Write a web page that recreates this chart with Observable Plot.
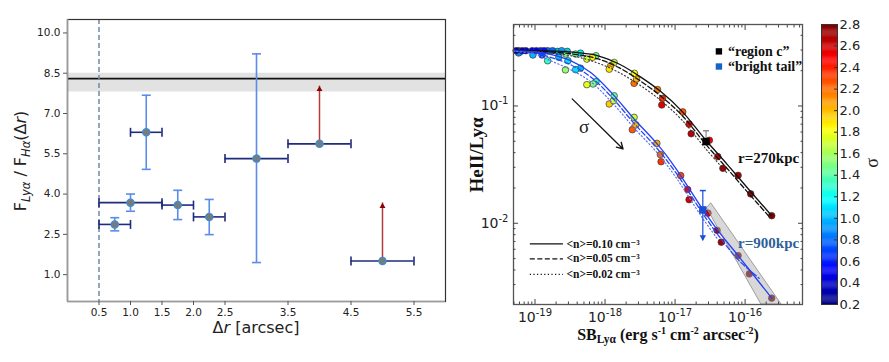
<!DOCTYPE html>
<html><head><meta charset="utf-8">
<script src="https://cdn.jsdelivr.net/npm/d3@7"></script>
<script src="https://cdn.jsdelivr.net/npm/@observablehq/plot@0.6"></script>
<style>
body{margin:0;background:#fff;}
#wrap{position:relative;width:889px;height:362px;overflow:hidden;background:#fff;}
#wrap > svg{position:absolute;top:0;}
</style></head><body><div id="wrap"></div>
<script>
// ================= LEFT PANEL DATA =================
const binCenter = [0.75, 1.0, 1.25, 1.75, 2.25, 3.0, 4.0, 5.0];
const binLo     = [0.5, 0.5, 1.0, 1.5, 2.0, 2.5, 3.5, 4.5];
const binHi     = [1.0, 1.5, 1.5, 2.0, 2.5, 3.5, 4.5, 5.5];
const ratio     = [2.87, 3.68, 6.30, 3.59, 3.15, 5.32, 5.87, 1.51];
const ratioLo   = [2.63, 3.36, 4.92, 3.05, 2.49, 1.45, null, null];
const ratioHi   = [3.12, 4.00, 7.68, 4.14, 3.80, 9.22, null, null];
const limitTip  = [null, null, null, null, null, null, 8.02, 3.67];
const meanRatio = 8.3;
const meanBand  = [7.8, 8.5];
const apertureX = 0.5;
const xDomainL = [0, 6];
const yDomainL = [0, 10.5];
const xTicksL = [0.5, 1.0, 1.5, 2.0, 2.5, 3.5, 4.5, 5.5];
const yTicksL = [1.0, 2.5, 4.0, 5.5, 7.0, 8.5, 10.0];

// ================= RIGHT PANEL DATA =================
const sbDomain = [4.93e-20, 6.6e-16];
const hlDomain = [0.00203, 0.495];
const sbTicks = [1e-19, 1e-18, 1e-17, 1e-16];
const hlTicks = [0.1, 0.01];
// model curves (log10 SB, HeII/Lya)
const blk010X = [-19.31,-19.0,-18.7,-18.4,-18.1,-17.8,-17.5,-17.2,-16.9,-16.56,-16.25,-15.95,-15.62];
const blk010Y = [0.296,0.296,0.293,0.285,0.268,0.228,0.178,0.132,0.09,0.051,0.0315,0.0195,0.0116];
const blk005X = [-19.31,-19.0,-18.7,-18.4,-18.1,-17.8,-17.5,-17.2,-16.9,-16.56,-16.25,-15.95,-15.65];
const blk005Y = [0.296,0.294,0.287,0.274,0.252,0.212,0.164,0.121,0.083,0.047,0.029,0.018,0.0113];
const blk002X = [-19.31,-19.0,-18.7,-18.4,-18.1,-17.8,-17.5,-17.2,-16.9,-16.56,-16.25];
const blk002Y = [0.296,0.291,0.279,0.262,0.232,0.193,0.15,0.111,0.0756,0.043,0.0265];
const blu010X = [-19.31,-19.0,-18.8,-18.5,-18.2,-17.9,-17.585,-17.25,-17.0,-16.6,-16.39,-16.1,-15.62];
const blu010Y = [0.294,0.29,0.277,0.245,0.192,0.128,0.0775,0.047,0.030,0.013,0.0087,0.0053,0.0023];
const blu005X = [-19.31,-19.0,-18.8,-18.5,-18.2,-17.9,-17.585,-17.25,-17.0,-16.6,-16.39,-16.1,-15.8];
const blu005Y = [0.294,0.284,0.262,0.226,0.176,0.118,0.071,0.043,0.0276,0.012,0.008,0.0049,0.0034];
const blu002X = [-19.31,-19.0,-18.8,-18.5,-18.2,-17.9,-17.585,-17.25,-17.0,-16.6,-16.39];
const blu002Y = [0.294,0.276,0.246,0.205,0.16,0.107,0.065,0.0395,0.0252,0.0109,0.0073];
// simulated points (log10 SB, HeII/Lya, sigma)
const ptLogSB = [-15.62,-15.92,-16.10,-16.317,-16.39,-16.51,-16.77,-16.80,-16.89,-17.19,-17.18,-17.25,-17.585,-17.55,-17.58,-17.87,-17.92,-17.94,-18.13,-18.18,-18.26,-18.35,-18.42,-18.54,-18.56,-18.68,-18.82,-18.92,-19.04,-19.13,-19.235,-19.22,
  -15.62,-15.94,-16.10,-16.34,-16.40,-16.53,-16.80,-16.82,-16.92,-17.20,-17.21,-17.26,-17.61,-17.56,-17.585,-17.94,-17.88,-17.87,-18.13,-18.17,-18.26,-18.35,-18.42,-18.565,-18.53,-18.66,-18.82,-18.90,-19.03,-19.235,
  -19.27,-19.18,-18.98,-18.87,-18.75,-18.62];
const ptRatio = [0.0116,0.0178,0.0256,0.0294,0.037,0.051,0.058,0.070,0.089,0.102,0.116,0.138,0.156,0.17,0.19,0.235,0.22,0.206,0.268,0.26,0.251,0.282,0.277,0.292,0.277,0.292,0.296,0.296,0.296,0.296,0.296,0.288,
  0.0023,0.0037,0.0053,0.0069,0.0087,0.0122,0.0159,0.0194,0.0255,0.0335,0.0385,0.048,0.0628,0.069,0.08,0.104,0.111,0.122,0.161,0.154,0.152,0.21,0.204,0.203,0.243,0.26,0.243,0.272,0.272,0.283,
  0.296,0.296,0.296,0.296,0.296,0.296];
const ptSigma = [2.8,2.75,2.7,2.7,2.6,2.5,2.65,2.5,2.25,2.55,2.35,2.15,2.2,2.0,1.8,1.7,2.05,1.9,1.45,1.85,1.7,1.15,1.4,1.05,1.5,1.0,0.8,0.6,0.5,0.4,0.3,1.0,
  2.8,2.75,2.75,2.7,2.7,2.6,2.6,2.5,2.3,2.35,2.2,2.05,2.25,2.0,1.7,1.95,1.7,1.45,1.3,1.5,1.75,1.0,1.1,1.55,1.1,1.0,1.3,0.7,1.0,0.9,
  0.3,0.35,0.45,0.55,0.8,0.95];
// shaded band around r=900kpc high-sigma tail
const bandLogX1 = [-16.542, -15.768];
const bandY1    = [0.01333, 0.00203];
const bandLogX2 = [-16.481, -15.48];
const bandY2    = [0.01472, 0.00203];
// observations
const obsNames = ["region c", "bright tail"];
const obsSB    = [2.77e-17, 2.49e-17];
const obsRatio = [0.0497, 0.013];
const obsErrLo = [0.0455, 0.0071];
const obsErrHi = [0.0615, 0.019];
const obsColor = ["#000000", "#1a4fd8"];
// annotations
const labelText = ["r=270kpc", "r=900kpc"];
const labelLogX = [-16.10, -16.10];
const labelY    = [0.0358, 0.0068];
const labelColor = ["#111111", "#2f5f9a"];
const sigmaArrow = {x1: -18.469, y1: 0.115, x2: -17.743, y2: 0.043};
const sigmaText = {x: -18.30, y: 0.0658};
const obsLegendLogX = -16.374, obsLegendTextLogX = -16.245, obsLegendY = [0.292, 0.217];
const obsLegendColor = ["#000000", "#1565c8"];
const densLabels = ["<n>=0.10 cm⁻³", "<n>=0.05 cm⁻³", "<n>=0.02 cm⁻³"];
const densDash = ["none", "5,2.5", "1.2,2.4"];
const densLegendX1 = -19.067, densLegendX2 = -18.594, densLegendTextX = -18.55;
const densLegendY = [0.00668, 0.00498, 0.00366];

// ================= COLORBAR =================
const sigmaDomain = [0.2, 2.8];
const cbTicks = [0.2,0.4,0.6,0.8,1.0,1.2,1.4,1.6,1.8,2.0,2.2,2.4,2.6,2.8];

function jet(t){
  const c = v => Math.max(0, Math.min(1, v));
  const r = c(1.5 - Math.abs(4*t-3)), g = c(1.5 - Math.abs(4*t-2)), b = c(1.5 - Math.abs(4*t-1));
  return `rgb(${Math.round(r*255)},${Math.round(g*255)},${Math.round(b*255)})`;
}
const colorOpts = {type: "linear", domain: sigmaDomain, interpolate: jet};
const pow10 = v => "10^" + Math.round(Math.log10(v));
function minorTicks(dom){
  const out = [];
  for (let e = Math.floor(Math.log10(dom[0])); e <= Math.ceil(Math.log10(dom[1])); e++)
    for (let k = 2; k <= 9; k++){ const v = k*Math.pow(10,e); if (v>dom[0] && v<dom[1]) out.push(v); }
  return out;
}
const capH = {draw(ctx){ ctx.moveTo(-4.5,0); ctx.lineTo(4.5,0); }};
const capV = {draw(ctx){ ctx.moveTo(0,-4.5); ctx.lineTo(0,4.5); }};
const capS = {draw(ctx){ ctx.moveTo(-3,0); ctx.lineTo(3,0); }};

const wrap = document.getElementById("wrap");

// ---------------- left plot ----------------
const idx = d3.range(binCenter.length);
const idxErr = idx.filter(i => ratioLo[i] != null);
const idxLim = idx.filter(i => limitTip[i] != null);
const left = Plot.plot({
  width: 460, height: 362, marginLeft: 67, marginRight: 15, marginTop: 19, marginBottom: 61,
  style: {fontFamily: "'DejaVu Sans', sans-serif", fontSize: "10.5px", color: "#222", background: "transparent"},
  x: {domain: xDomainL},
  y: {domain: yDomainL},
  marks: [
    Plot.rect([0], {x1: xDomainL[0], x2: xDomainL[1], y1: meanBand[0], y2: meanBand[1], fill: "#e2e2e2"}),
    Plot.ruleY([meanRatio], {stroke: "#111", strokeWidth: 1.6}),
    Plot.ruleX([apertureX], {stroke: "#6d8aa6", strokeWidth: 1.5, strokeDasharray: "5,3"}),
    Plot.ruleX(idxErr, {x: i => binCenter[i], y1: i => ratioLo[i], y2: i => ratioHi[i], stroke: "#5b8beb", strokeWidth: 1.6}),
    Plot.dot(idxErr, {x: i => binCenter[i], y: i => ratioHi[i], symbol: capH, stroke: "#5b8beb", strokeWidth: 1.6, fill: "none"}),
    Plot.dot(idxErr, {x: i => binCenter[i], y: i => ratioLo[i], symbol: capH, stroke: "#5b8beb", strokeWidth: 1.6, fill: "none"}),
    Plot.ruleX(idxLim, {x: i => binCenter[i], y1: i => ratio[i], y2: i => limitTip[i], stroke: "#b23b3b", strokeWidth: 1.5}),
    Plot.dot(idxLim, {x: i => binCenter[i], y: i => limitTip[i], symbol: "triangle", r: 2.2, fill: "#8b0000", dy: 3.3}),
    Plot.ruleY(idx, {y: i => ratio[i], x1: i => binLo[i], x2: i => binHi[i], stroke: "#1f2b7c", strokeWidth: 1.6}),
    Plot.dot(idx, {x: i => binLo[i], y: i => ratio[i], symbol: capV, stroke: "#1f2b7c", strokeWidth: 1.6, fill: "none"}),
    Plot.dot(idx, {x: i => binHi[i], y: i => ratio[i], symbol: capV, stroke: "#1f2b7c", strokeWidth: 1.6, fill: "none"}),
    Plot.dot(idx, {x: i => binCenter[i], y: i => ratio[i], r: 3.6, fill: "#7a7a7a", stroke: "#3d8fd1", strokeWidth: 1.3}),
    Plot.frame({stroke: "#333", strokeWidth: 1.2}),
    Plot.ruleX([xDomainL[0]], {stroke: "#9a9a9a", strokeWidth: 1.6}),
    Plot.ruleY([yDomainL[0]], {stroke: "#9a9a9a", strokeWidth: 1.6}),
    Plot.axisX({ticks: xTicksL, tickFormat: d3.format(".1f"), tickSize: 4, tickPadding: 3, label: null, stroke: "#555"}),
    Plot.axisY({ticks: yTicksL, tickFormat: d3.format(".1f"), tickSize: 4, tickPadding: 3, label: null, stroke: "#555"})
  ]
});
left.style.left = "0px";
wrap.appendChild(left);
{
  const s = d3.select(left);
  const t = s.append("text").attr("transform", "translate(26,161) rotate(-90)").attr("text-anchor", "middle")
    .attr("font-family", "'DejaVu Sans', sans-serif").attr("font-size", 16).attr("fill", "#222");
  t.append("tspan").text("F");
  t.append("tspan").attr("font-size", 11.5).attr("font-style", "italic").attr("dy", 4).text("Lyα");
  t.append("tspan").attr("dy", -4).text(" / F");
  t.append("tspan").attr("font-size", 11.5).attr("font-style", "italic").attr("dy", 4).text("Hα");
  t.append("tspan").attr("dy", -4).text("(Δ");
  t.append("tspan").attr("font-style", "italic").text("r");
  t.append("tspan").text(")");
  const x = s.append("text").attr("x", 256).attr("y", 333).attr("text-anchor", "middle")
    .attr("font-family", "'DejaVu Sans', sans-serif").attr("font-size", 16).attr("fill", "#222");
  x.append("tspan").text("Δ");
  x.append("tspan").attr("font-style", "italic").text("r");
  x.append("tspan").text(" [arcsec]");
}

// ---------------- right plot ----------------
const L = v => Math.pow(10, v);
const pIdx = d3.range(ptLogSB.length);
const curve = (xs, ys, stroke, dash, w) => Plot.line(d3.range(xs.length), {x: i => L(xs[i]), y: i => ys[i], stroke, strokeDasharray: dash, strokeWidth: w, curve: "catmull-rom", clip: true});
const serif = "'Liberation Serif', 'DejaVu Serif', serif";
const minX = minorTicks(sbDomain), minY = minorTicks(hlDomain);
const oi = [0, 1];
const densRules = [0, 1, 2].map(i => Plot.ruleY([i], {y: j => densLegendY[j], x1: L(densLegendX1), x2: L(densLegendX2), stroke: "#111", strokeWidth: 1.3, strokeDasharray: densDash[i]}));
const right = Plot.plot({
  width: 350, height: 362, marginLeft: 53, marginRight: 8, marginTop: 24, marginBottom: 58,
  style: {fontFamily: "'DejaVu Sans', sans-serif", fontSize: "14px", color: "#222", background: "transparent"},
  x: {type: "log", domain: sbDomain},
  y: {type: "log", domain: hlDomain},
  color: colorOpts,
  marks: [
    Plot.dot(pIdx, {x: i => L(ptLogSB[i]), y: i => ptRatio[i], fill: i => ptSigma[i], stroke: "#3a3a3a", strokeWidth: 0.7, r: 3.3}),
    Plot.area([0, 1], {x1: i => L(bandLogX1[i]), y1: i => bandY1[i], x2: i => L(bandLogX2[i]), y2: i => bandY2[i], fill: "#a8a8a8", fillOpacity: 0.45, stroke: "#8a8a8a", strokeWidth: 0.8, clip: true}),
    curve(blk010X, blk010Y, "#111", "none", 1.3),
    curve(blk005X, blk005Y, "#111", "5,2.5", 1.3),
    curve(blk002X, blk002Y, "#333", "1.2,2.4", 1.1),
    curve(blu010X, blu010Y, "#2340f5", "none", 1.3),
    curve(blu005X, blu005Y, "#2a46f0", "5,2.5", 1.3),
    curve(blu002X, blu002Y, "#5a72ff", "1.2,2.4", 1.2),
    // observations
    Plot.ruleX([0], {x: obsSB[0], y1: obsErrLo[0], y2: obsErrHi[0], stroke: "#8a8a8a", strokeWidth: 1.2}),
    Plot.dot([0], {x: obsSB[0], y: obsErrHi[0], symbol: capS, stroke: "#8a8a8a", fill: "none"}),
    Plot.ruleX([1], {x: obsSB[1], y1: obsErrLo[1], y2: obsErrHi[1], stroke: obsColor[1], strokeWidth: 1.2}),
    Plot.dot([1], {x: obsSB[1], y: obsErrHi[1], symbol: capS, stroke: obsColor[1], fill: "none"}),
    Plot.dot([1], {x: obsSB[1], y: obsErrLo[1], symbol: "triangle", r: 2.4, rotate: 180, fill: obsColor[1], dy: -3.5}),
    Plot.dot(oi, {x: i => obsSB[i], y: i => obsRatio[i], symbol: "square", r: 4.2, fill: i => obsColor[i], stroke: "none"}),
    // sigma arrow
    Plot.arrow([sigmaArrow], {x1: d => L(d.x1), y1: "y1", x2: d => L(d.x2), y2: "y2", stroke: "#111", strokeWidth: 1.3, headLength: 8}),
    Plot.text([sigmaText], {x: d => L(d.x), y: "y", text: () => "σ", fontFamily: serif, fontSize: 19, fill: "#222"}),
    // radius labels
    Plot.text([0, 1], {x: i => L(labelLogX[i]), y: i => labelY[i], text: i => labelText[i], fill: i => labelColor[i], textAnchor: "start", fontFamily: serif, fontWeight: "bold", fontSize: 15}),
    // observation legend
    Plot.dot(oi, {x: L(obsLegendLogX), y: i => obsLegendY[i], symbol: "square", r: 3.6, fill: i => obsLegendColor[i]}),
    Plot.text(oi, {x: L(obsLegendTextLogX), y: i => obsLegendY[i], text: i => "“" + obsNames[i] + "”", textAnchor: "start", fontFamily: serif, fontWeight: "bold", fontSize: 14, fill: "#111"}),
    // density legend
    ...densRules,
    Plot.text([0, 1, 2], {x: L(densLegendTextX), y: i => densLegendY[i], text: i => densLabels[i], textAnchor: "start", fontFamily: serif, fontWeight: "bold", fontSize: 11.5, fill: "#111"}),
    Plot.frame({stroke: "#555", strokeWidth: 1.3}),
    // axes
    Plot.axisX({ticks: sbTicks, tickFormat: pow10, tickSize: 0, tickPadding: 8, label: null}),
    Plot.axisX({ticks: sbTicks, tickFormat: () => "", tickSize: -5, label: null, stroke: "#444"}),
    Plot.axisX({ticks: minX, tickFormat: () => "", tickSize: -2.5, label: null, stroke: "#444"}),
    Plot.axisX({anchor: "top", ticks: sbTicks, tickFormat: () => "", tickSize: -5, label: null, stroke: "#444"}),
    Plot.axisX({anchor: "top", ticks: minX, tickFormat: () => "", tickSize: -2.5, label: null, stroke: "#444"}),
    Plot.axisY({ticks: hlTicks, tickFormat: pow10, tickSize: 0, tickPadding: 5, label: null}),
    Plot.axisY({ticks: hlTicks, tickFormat: () => "", tickSize: -5, label: null, stroke: "#444"}),
    Plot.axisY({ticks: minY, tickFormat: () => "", tickSize: -2.5, label: null, stroke: "#444"}),
    Plot.axisY({anchor: "right", ticks: hlTicks, tickFormat: () => "", tickSize: -5, label: null, stroke: "#444"}),
    Plot.axisY({anchor: "right", ticks: minY, tickFormat: () => "", tickSize: -2.5, label: null, stroke: "#444"})
  ]
});
right.style.left = "460px";
wrap.appendChild(right);
{
  const s = d3.select(right);
  // turn "10^-19" tick labels into 10 with a raised exponent
  s.selectAll("text").each(function(){
    const str = this.textContent;
    if (!/^10\^-?\d+$/.test(str)) return;
    const [b, e] = str.split("^");
    this.textContent = "";
    const sel = d3.select(this);
    sel.append("tspan").text(b);
    sel.append("tspan").attr("font-size", 10).attr("dy", -6).text(e);
  });
  s.append("text").attr("transform", "translate(23,155) rotate(-90)").attr("text-anchor", "middle")
    .attr("font-family", serif).attr("font-weight", "bold").attr("font-size", 19).attr("fill", "#111").text("HeII/Lyα");
  const x = s.append("text").attr("x", 208).attr("y", 340).attr("text-anchor", "middle")
    .attr("font-family", serif).attr("font-weight", "bold").attr("font-size", 16).attr("fill", "#111");
  x.append("tspan").text("SB");
  x.append("tspan").attr("font-size", 11.5).attr("dy", 3).text("Lyα");
  x.append("tspan").attr("dy", -3).text(" (erg s");
  x.append("tspan").attr("font-size", 10).attr("dy", -6).text("-1");
  x.append("tspan").attr("dy", 6).text(" cm");
  x.append("tspan").attr("font-size", 10).attr("dy", -6).text("-2");
  x.append("tspan").attr("dy", 6).text(" arcsec");
  x.append("tspan").attr("font-size", 10).attr("dy", -6).text("-2");
  x.append("tspan").attr("dy", 6).text(")");
}

// ---------------- colorbar ----------------
const cbSlices = d3.range(sigmaDomain[0], sigmaDomain[1], 0.01);
const cb = Plot.plot({
  width: 89, height: 362, marginLeft: 21, marginRight: 52, marginTop: 24, marginBottom: 58,
  style: {fontFamily: "'DejaVu Sans', sans-serif", fontSize: "13px", color: "#222", background: "transparent"},
  x: {domain: [0, 1], axis: null},
  y: {domain: sigmaDomain},
  color: colorOpts,
  marks: [
    Plot.rect(cbSlices, {x1: 0, x2: 1, y1: d => d, y2: d => Math.min(d + 0.012, sigmaDomain[1]), fill: d => d + 0.005}),
    Plot.frame({stroke: "#333"}),
    Plot.axisY({anchor: "right", ticks: cbTicks, tickFormat: d3.format(".1f"), tickSize: 0, tickPadding: 2, label: null}),
    Plot.axisY({anchor: "right", ticks: cbTicks, tickFormat: () => "", tickSize: -4, label: null, stroke: "#333"})
  ]
});
cb.style.left = "800px";
wrap.appendChild(cb);
d3.select(cb).append("text").attr("transform", "translate(78,163) rotate(-90)").attr("text-anchor", "middle")
  .attr("font-family", serif).attr("font-size", 18).attr("fill", "#222").text("σ");
</script>
</body></html>
